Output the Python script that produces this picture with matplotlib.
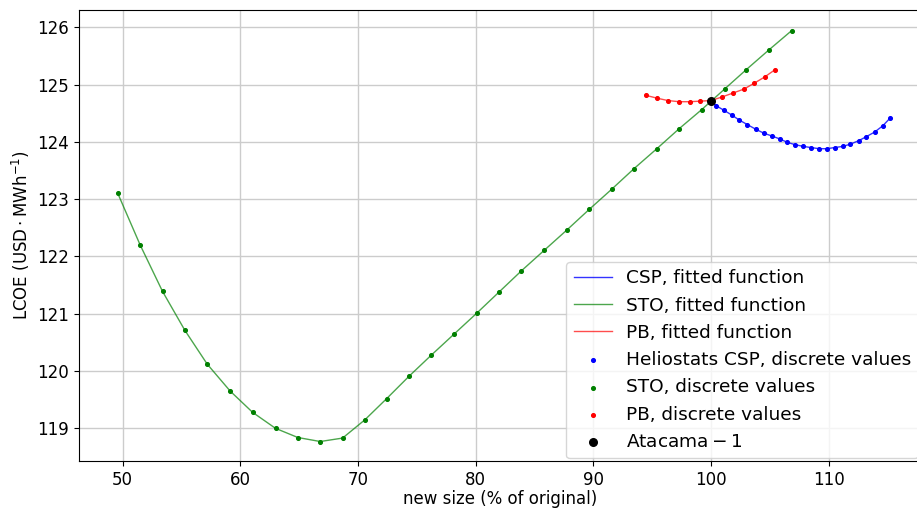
import matplotlib
matplotlib.use("Agg")
from matplotlib import pyplot as plt

# STO (storage) size sweep
sto_x = [49.6, 51.5, 53.4, 55.3, 57.2, 59.15, 61.05, 63.0, 64.9, 66.8, 68.7, 70.6,
         72.45, 74.35, 76.25, 78.2, 80.1, 82.0, 83.9, 85.85, 87.75, 89.65, 91.55,
         93.45, 95.4, 97.3, 99.2, 101.15, 103.0, 104.9, 106.85]
sto_y = [123.10, 122.20, 121.39, 120.71, 120.12, 119.65, 119.28, 119.00, 118.84,
         118.77, 118.83, 119.15, 119.52, 119.91, 120.28, 120.65, 121.01, 121.38,
         121.75, 122.11, 122.46, 122.82, 123.17, 123.53, 123.88, 124.23, 124.56,
         124.92, 125.26, 125.60, 125.94]

# power block size sweep
pb_x = [94.5, 95.45, 96.35, 97.3, 98.2, 99.1, 100.0, 100.9, 101.85, 102.8, 103.65,
        104.55, 105.45]
pb_y = [124.81, 124.76, 124.72, 124.70, 124.70, 124.71, 124.72, 124.78, 124.85,
        124.92, 125.02, 125.13, 125.26]

# heliostat field size sweep
csp_x = [100.0, 100.45, 101.1, 101.75, 102.4, 103.1, 103.8, 104.5, 105.2, 105.85,
         106.5, 107.15, 107.85, 108.5, 109.2, 109.85, 110.5, 111.2, 111.85, 112.55,
         113.2, 113.9, 114.6, 115.2]
csp_y = [124.72, 124.63, 124.55, 124.47, 124.38, 124.30, 124.22, 124.15, 124.10,
         124.05, 123.99, 123.95, 123.92, 123.90, 123.88, 123.88, 123.90, 123.92,
         123.96, 124.02, 124.09, 124.17, 124.28, 124.41]

ref_x = [100.0]
ref_y = [124.72]

fig = plt.figure(figsize=(9.17, 5.09), dpi=100)
# axes run a touch past the right edge, as in the cropped original
ax = fig.add_axes([0.0861, 0.0943, 0.9182, 0.8860])

ax.plot(csp_x, csp_y, color='blue', lw=1, alpha=0.8, label='CSP, fitted function')
ax.plot(sto_x, sto_y, color='green', lw=1, alpha=0.7, label='STO, fitted function')
ax.plot(pb_x, pb_y, color='red', lw=1, alpha=0.7, label='PB, fitted function')
ax.scatter(csp_x, csp_y, s=7, color='blue', zorder=3, label='Heliostats CSP, discrete values')
ax.scatter(sto_x, sto_y, s=7, color='green', zorder=3, label='STO, discrete values')
ax.scatter(pb_x, pb_y, s=7, color='red', zorder=3, label='PB, discrete values')
ax.scatter(ref_x, ref_y, s=30, color='black', zorder=4, label=r'$\mathrm{Atacama-1}$')

ax.set_xlim(46.3, 117.84)
ax.set_ylim(118.43, 126.30)
ax.set_xticks([50, 60, 70, 80, 90, 100, 110])
ax.set_yticks([119, 120, 121, 122, 123, 124, 125, 126])
ax.grid(True, color='#cccccc', lw=1)
ax.set_axisbelow(True)
ax.tick_params(labelsize=12)
ax.set_xlabel('new size (% of original)', fontsize=12, labelpad=1)
ax.set_ylabel(r'LCOE $(\mathrm{USD \cdot MWh^{-1}})$', fontsize=12)
ax.spines['right'].set_visible(False)

ax.legend(loc='lower right', fontsize=13.3, borderaxespad=0.15, handlelength=2.05,
          handletextpad=0.75, labelspacing=0.5)

plt.savefig('out.png', dpi=100)
plt.close()
